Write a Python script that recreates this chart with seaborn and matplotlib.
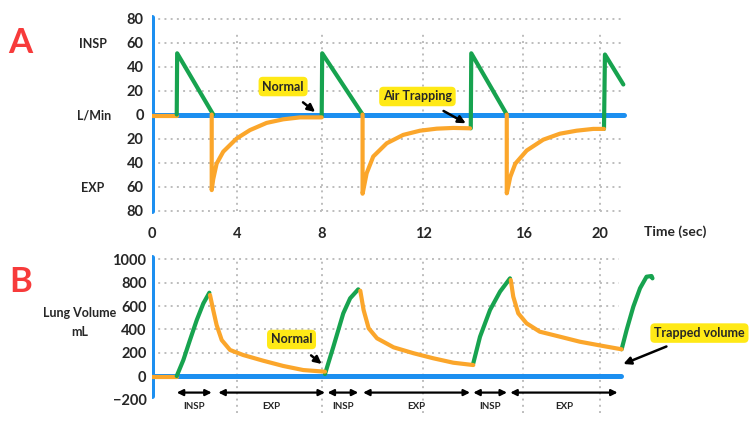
import numpy as np
import matplotlib
matplotlib.use("Agg")
import matplotlib.pyplot as plt
from matplotlib.ticker import FuncFormatter
import seaborn as sns

# colours
BLUE = "#1c8ff0"
GREEN = "#17a34f"
ORANGE = "#fba62b"
RED = "#f73b3b"
YELLOW = "#ffe916"
GRID = "#bdbdbd"

# hand drawn time axis: the gridlines are not evenly spaced
spacing_t = [-4, 0, 4, 8, 12, 16, 20, 40]
spacing_px = [-85.3, 0, 85.3, 169.7, 271.3, 371.3, 448, 831.4]

time_ticks = [0, 4, 8, 12, 16, 20]
flow_ticks = [-80, -60, -40, -20, 0, 20, 40, 60, 80]
vol_ticks = [-200, 0, 200, 400, 600, 800, 1000]

# ---- panel A: flow (L/min) ----
flow_pre_t = [0, 1.16]
flow_pre = [-1.5, -1.5]

flow_insp_t = [[1.16, 1.18, 2.87],
               [8.0, 8.02, 9.61],
               [13.9, 13.92, 15.34],
               [20.21, 20.26, 21.22]]
flow_insp = [[0, 51, 0],
             [-2, 51, 0],
             [-11.5, 51, 0],
             [-12, 50, 25]]

flow_exp_t = [[2.80, 2.80, 2.87, 3.03, 3.34, 3.97, 4.60, 5.39, 6.18, 6.97, 8.0],
              [9.61, 9.61, 9.77, 10.03, 10.56, 11.21, 11.87, 12.54, 13.2, 13.87],
              [15.34, 15.34, 15.48, 15.68, 16.18, 17.04, 17.91, 18.78, 19.65, 20.21]]
flow_exp = [[0, -63, -54, -41, -31, -20, -13, -7, -4, -2.4, -2.4],
            [0, -66, -49, -35, -24, -17, -13.5, -11.8, -11.2, -11.5],
            [0, -65.7, -52, -41, -30, -21, -16, -13.5, -12, -12]]

# ---- panel B: lung volume (mL) ----
vol_pre_t = [0, 1.16]
vol_pre = [-5, -5]

vol_insp_t = [[1.16, 1.47, 1.78, 2.10, 2.41, 2.69],
              [8.13, 8.46, 8.85, 9.12, 9.44],
              [14.0, 14.27, 14.67, 15.07, 15.47],
              [21.13, 21.39, 21.74, 22.09, 22.43, 22.69, 22.74]]
vol_insp = [[0, 137, 308, 480, 623, 714],
            [17, 251, 537, 666, 743],
            [109, 337, 566, 723, 837],
            [229, 394, 594, 752, 851, 857, 837]]

vol_exp_t = [[2.72, 2.87, 3.03, 3.27, 3.66, 4.28, 5.23, 6.18, 7.13, 8.13],
             [9.52, 9.65, 9.85, 10.18, 10.83, 11.62, 12.40, 13.20, 14.0],
             [15.50, 15.60, 15.80, 16.17, 16.86, 17.91, 18.95, 20.17, 21.13]]
vol_exp = [[694, 566, 437, 308, 223, 180, 131, 86, 51, 37],
           [731, 566, 409, 323, 246, 195, 152, 114, 94],
           [823, 680, 537, 452, 380, 337, 294, 257, 229]]

# breathing phases under panel B
phase_start = [1.16, 3.11, 8.23, 9.63, 14.0, 15.48]
phase_end = [2.80, 8.13, 9.44, 13.87, 15.35, 20.92]
phase_label = ["INSP", "EXP", "INSP", "EXP", "INSP", "EXP"]


def fwd(t):
    return np.interp(t, spacing_t, spacing_px)


def inv(p):
    return np.interp(p, spacing_px, spacing_t)


def draw(ax, t, v, color):
    sns.lineplot(x=t, y=v, ax=ax, color=color, linewidth=3, sort=False,
                 estimator=None, solid_capstyle="round", solid_joinstyle="round")


def note(ax, text, xy, xytext):
    ax.annotate(text, xy=xy, xytext=xytext, ha="center", va="center",
                fontsize=9, fontweight="bold", annotation_clip=False,
                bbox=dict(boxstyle="round,pad=0.3,rounding_size=0.35", fc=YELLOW, ec="none"),
                arrowprops=dict(arrowstyle="-|>", color="black", lw=1.8,
                                mutation_scale=11, shrinkA=7, shrinkB=0))


sns.set_theme(style="white")
plt.rcParams["font.family"] = ["Lato", "DejaVu Sans"]

fig = plt.figure(figsize=(7.5, 4.22), dpi=100)
W, H = 750, 422
axA = fig.add_axes([152 / W, 1 - 215 / H, 509.3 / W, 201 / H])
axB = fig.add_axes([152 / W, 1 - 420 / H, 509.3 / W, 170 / H])

for ax in (axA, axB):
    ax.set_xscale("function", functions=(fwd, inv))
    ax.set_xlim(0, 23.2)
    for s in ax.spines.values():
        s.set_visible(False)
    ax.set_facecolor("white")

dots = dict(color=GRID, linestyle=(0, (1, 2.2)), linewidth=1.4, zorder=0)

# panel A grid + axes
axA.set_ylim(-83.75, 83.75)
axA.hlines([v for v in flow_ticks if v != 0], 0, 21.15, **dots)
axA.vlines(time_ticks[1:], -80, 70, **dots)
axA.plot([0, 21.25], [0, 0], color=BLUE, lw=3.6, solid_capstyle="round", zorder=1)
axA.plot([0, 0], [-80, 81], color=BLUE, lw=3.6, solid_capstyle="round", zorder=1)

draw(axA, flow_pre_t, flow_pre, ORANGE)
for t, v in zip(flow_insp_t, flow_insp):
    draw(axA, t, v, GREEN)
for t, v in zip(flow_exp_t, flow_exp):
    draw(axA, t, v, ORANGE)

axA.set_yticks(flow_ticks)
axA.yaxis.set_major_formatter(FuncFormatter(lambda v, p: f"{abs(v):.0f}"))
axA.set_xticks(time_ticks)
axA.set_xticklabels([str(x) for x in time_ticks])
axA.tick_params(axis="y", length=0, pad=6, labelsize=10.5)
axA.tick_params(axis="x", length=0, pad=9, labelsize=10.5)
for lab in axA.get_xticklabels() + axA.get_yticklabels():
    lab.set_fontweight("bold")
axA.set_xlabel("")
axA.set_ylabel("")

note(axA, "Normal", (7.69, 2.1), (6.17, 23.3))
note(axA, "Air Trapping", (13.7, -7.3), (11.77, 15))

# panel B grid + axes
axB.set_ylim(-377, 1080)
axB.hlines([200, 400, 600, 800, 1000], 0, 21.0, **dots)
axB.vlines(time_ticks[1:], -317, 1003, **dots)
axB.plot([0, 21.1], [0, 0], color=BLUE, lw=3.6, solid_capstyle="round", zorder=1)
axB.plot([0, 0], [-171, 1022], color=BLUE, lw=3.6, solid_capstyle="round", zorder=1)

draw(axB, vol_pre_t, vol_pre, ORANGE)
for t, v in zip(vol_insp_t, vol_insp):
    draw(axB, t, v, GREEN)
for t, v in zip(vol_exp_t, vol_exp):
    draw(axB, t, v, ORANGE)

axB.set_yticks(vol_ticks)
axB.set_xticks([])
axB.tick_params(axis="y", length=0, pad=4, labelsize=10.5)
for lab in axB.get_yticklabels():
    lab.set_fontweight("bold")
axB.set_xlabel("")
axB.set_ylabel("")

for t0, t1, lab in zip(phase_start, phase_end, phase_label):
    axB.annotate("", xy=(t1, -142), xytext=(t0, -142),
                 arrowprops=dict(arrowstyle="<|-|>", color="black", lw=1.6,
                                 mutation_scale=9, shrinkA=0, shrinkB=0))
    mid = inv((fwd(t0) + fwd(t1)) / 2)
    axB.text(mid, -262, lab, ha="center", va="center", fontsize=7, fontweight="bold")

note(axB, "Normal", (8.0, 103), (6.57, 313))
note(axB, "Trapped volume", (21.22, 103), (25.19, 368))

# side labels
fig.text(20 / W, 1 - 43 / H, "A", color=RED, fontsize=25, fontweight="bold", ha="center", va="center")
fig.text(21 / W, 1 - 282 / H, "B", color=RED, fontsize=25, fontweight="bold", ha="center", va="center")
fig.text(93 / W, 1 - 44 / H, "INSP", fontsize=9, fontweight="bold", ha="center", va="center")
fig.text(94 / W, 1 - 116 / H, "L/Min", fontsize=9, fontweight="bold", ha="center", va="center")
fig.text(93 / W, 1 - 188 / H, "EXP", fontsize=9, fontweight="bold", ha="center", va="center")
fig.text(80 / W, 1 - 313 / H, "Lung Volume", fontsize=9, fontweight="bold", ha="center", va="center")
fig.text(80 / W, 1 - 332 / H, "mL", fontsize=9, fontweight="bold", ha="center", va="center")
fig.text(675 / W, 1 - 232 / H, "Time (sec)", fontsize=10, fontweight="bold", ha="center", va="center")

fig.savefig("out.png", dpi=100, facecolor="white")
